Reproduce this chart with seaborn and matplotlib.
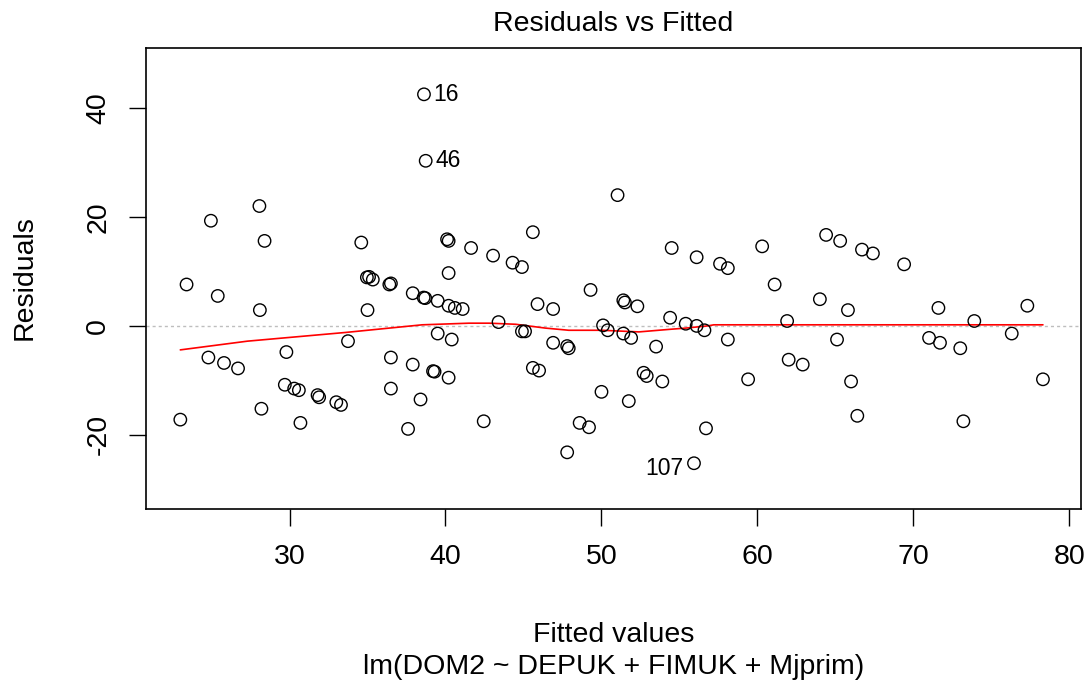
import numpy as np
import pandas as pd
import matplotlib
matplotlib.use("Agg")
import matplotlib.pyplot as plt
import seaborn as sns

# ---- data ----
fitted = [23.0, 23.4, 24.8, 24.96, 25.4, 25.8, 26.7, 28.07, 28.1, 28.2,
          28.4, 29.7, 29.8, 30.3, 30.6, 30.7, 31.8, 31.9, 33.0, 33.3,
          33.75, 34.6, 34.96, 35.0, 35.1, 35.34, 36.4, 36.5, 36.5, 36.5,
          37.6, 37.9, 37.9, 38.4, 38.6, 38.7, 38.62, 38.73, 39.2, 39.3,
          39.5, 39.5, 40.1, 40.2, 40.2, 40.2, 40.6, 41.1, 40.2, 40.4,
          41.64, 42.45, 43.05, 43.4, 44.3, 44.9, 44.9, 45.1, 45.6, 45.6,
          46.0, 45.9, 46.9, 46.9, 47.8, 47.9, 47.8, 48.6, 49.2, 49.3,
          50.0, 50.1, 50.4, 51.03, 51.4, 51.5, 51.4, 51.9, 51.75, 52.3,
          52.7, 52.9, 53.5, 53.9, 54.4, 54.5, 55.4, 55.93, 56.1, 56.1,
          56.6, 56.7, 57.6, 58.1, 58.1, 59.4, 60.3, 61.1, 61.9, 62.0,
          62.9, 64.0, 64.4, 65.1, 65.3, 65.8, 66.0, 66.4, 66.7, 67.4,
          69.4, 71.0, 71.6, 71.7, 73.0, 73.2, 73.9, 76.3, 77.3, 78.3]
residuals = [-17.2, 7.6, -5.8, 19.3, 5.5, -6.8, -7.8, 22.0, 2.9, -15.2,
             15.6, -10.8, -4.8, -11.5, -11.8, -17.8, -12.7, -13.1, -14.0, -14.5,
             -2.8, 15.3, 8.9, 2.9, 9.0, 8.5, 7.6, 7.8, -5.8, -11.5,
             -18.9, 6.0, -7.1, -13.5, 5.2, 5.1, 42.5, 30.3, -8.3, -8.4,
             4.6, -1.4, 15.9, 15.6, 9.7, 3.7, 3.3, 3.1, -9.5, -2.5,
             14.3, -17.5, 12.9, 0.7, 11.6, 10.8, -1.0, -1.0, 17.2, -7.7,
             -8.2, 4.0, 3.1, -3.1, -3.7, -4.1, -23.2, -17.8, -18.6, 6.6,
             -12.1, 0.1, -0.8, 24.0, 4.7, 4.3, -1.4, -2.2, -13.8, 3.6,
             -8.6, -9.2, -3.8, -10.2, 1.5, 14.3, 0.4, -25.2, 12.6, 0.0,
             -0.8, -18.8, 11.4, 10.6, -2.5, -9.8, 14.6, 7.6, 0.9, -6.2,
             -7.1, 4.9, 16.7, -2.5, 15.6, 2.9, -10.2, -16.5, 14.0, 13.3,
             11.3, -2.2, 3.3, -3.1, -4.1, -17.5, 0.9, -1.4, 3.7, -9.8]

label_ids = ["16", "46", "107"]
label_x = [38.62, 38.73, 55.93]
label_y = [42.5, 30.3, -25.2]

smooth_x = [23.0, 27.3, 33.6, 36.4, 38.5, 41.5, 42.8, 44.5, 46.4, 47.9,
            50.0, 52.4, 54.5, 55.4, 56.8, 57.2, 78.3]
smooth_y = [-4.4, -2.8, -1.2, -0.4, 0.2, 0.5, 0.5, 0.3, -0.4, -0.8,
            -0.8, -1.1, -0.6, -0.4, 0.0, 0.2, 0.2]

x_ticks = [30, 40, 50, 60, 70, 80]
y_ticks = [-20, 0, 20, 40]

title = "Residuals vs Fitted"
x_label = "Fitted values"
y_label = "Residuals"
subtitle = "lm(DOM2 ~ DEPUK + FIMUK + Mjprim)"

# ---- style ----
sns.set_style("white")
plt.rcParams["font.family"] = ["Liberation Sans", "DejaVu Sans"]
plt.rcParams["axes.unicode_minus"] = False
plt.rcParams["text.color"] = "black"
plt.rcParams["xtick.color"] = "black"
plt.rcParams["ytick.color"] = "black"
plt.rcParams["xtick.labelcolor"] = "black"
plt.rcParams["ytick.labelcolor"] = "black"

W, H = 1087, 682
fig = plt.figure(figsize=(W / 100, H / 100), dpi=100)
ax = fig.add_axes([146 / W, 1 - 509 / H, (1081 - 146) / W, (509 - 48) / H])

df = pd.DataFrame({"Fitted": fitted, "Residuals": residuals})
ax.axhline(0, color="#BEBEBE", linestyle=(0, (2.2, 2.2)), linewidth=1.0, zorder=1)
sns.lineplot(x=smooth_x, y=smooth_y, color="red", linewidth=1.2, sort=False,
             estimator=None, ax=ax, zorder=2)
sns.scatterplot(data=df, x="Fitted", y="Residuals", ax=ax, marker="o", s=80,
                facecolors="none", edgecolor="black", linewidth=1.0, zorder=3)

for lab, lx, ly in zip(label_ids, label_x, label_y):
    if lab == "107":
        ax.annotate(lab, (lx, ly), xytext=(-8, -4), textcoords="offset points",
                    ha="right", va="center", fontsize=16.5, color="black")
    else:
        ax.annotate(lab, (lx, ly), xytext=(7, 0), textcoords="offset points",
                    ha="left", va="center", fontsize=16.5, color="black")

ax.set_xlim(20.8, 80.74)
ax.set_ylim(-33.6, 51.0)
ax.set_xticks(x_ticks)
ax.set_yticks(y_ticks)
ax.set_xlabel("")
ax.set_ylabel("")
ax.tick_params(axis="both", direction="out", length=12, width=1.0,
               color="black", labelcolor="black", labelsize=20.5, pad=13,
               bottom=True, left=True)
for t in ax.get_yticklabels():
    t.set_rotation(90)
    t.set_va("center")
for s in ax.spines.values():
    s.set_visible(True)
    s.set_color("black")
    s.set_linewidth(1.2)

fig.text(613.5 / W, 1 - 24 / H, title, ha="center", va="center", fontsize=20.5,
         color="black")
fig.text(613.5 / W, 1 - 635 / H, x_label, ha="center", va="center", fontsize=20.5,
         color="black")
fig.text(613.5 / W, 1 - 667 / H, subtitle, ha="center", va="center", fontsize=20.5,
         color="black")
fig.text(25 / W, 1 - 278 / H, y_label, ha="center", va="center", rotation=90,
         fontsize=20.5, color="black")

fig.savefig("out.png", dpi=100)
